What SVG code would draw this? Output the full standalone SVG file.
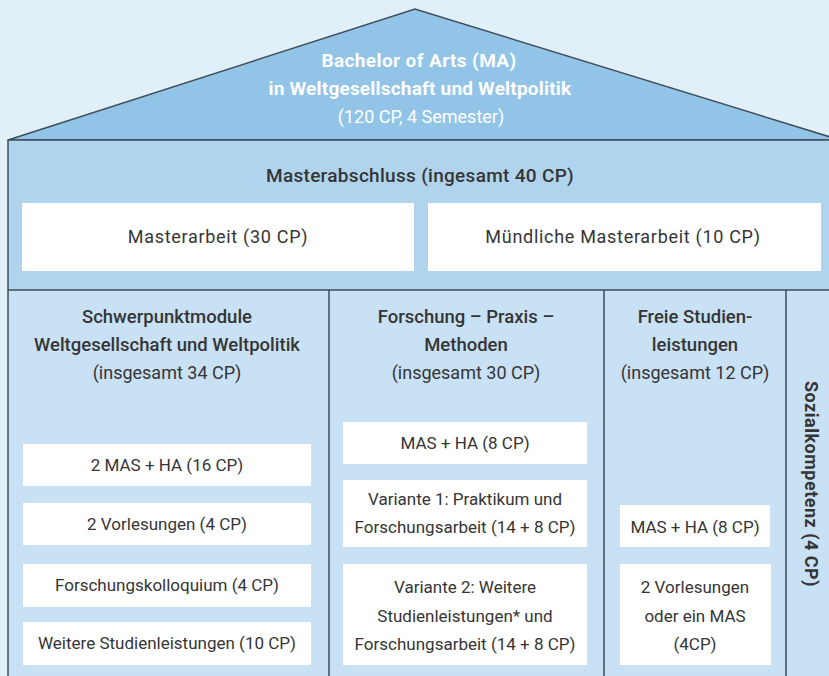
<svg xmlns="http://www.w3.org/2000/svg" width="829" height="676" viewBox="0 0 829 676">
<style>
text{font-family:Roboto,"Liberation Sans",sans-serif;fill:#353535;text-anchor:middle}
.t{fill:#ffffff;font-size:19px}
.b{font-weight:700}
.h{font-size:18.5px;font-weight:500}
.hs{font-size:18px}
.bx{font-size:17px}
.mb{font-size:18px;letter-spacing:0.7px}
.box{fill:#ffffff}
.ln{stroke:#3e4d59;stroke-width:1.5;fill:none}
</style>
<rect width="829" height="676" fill="#e1eff9"/>
<g id="roof">
<polygon points="8,140 415,9 840,140" style="fill:#92c4e8;stroke:#3e4d59;stroke-width:1.5"/>
<text class="t b" x="419" y="67" style="letter-spacing:0.4px">Bachelor of Arts (MA)</text>
<text class="t b" x="420" y="95" style="letter-spacing:0.2px">in Weltgesellschaft und Weltpolitik</text>
<text class="t" x="421" y="123" style="font-size:18px">(120 CP, 4 Semester)</text>
</g>
<g id="masterabschluss">
<rect x="8" y="140" width="832" height="150" fill="#b1d4ee"/>
<text class="h" x="420" y="182" style="font-size:19px;letter-spacing:0.3px">Masterabschluss (ingesamt 40 CP)</text>
</g>
<g id="masterarbeit">
<rect class="box" x="22" y="203" width="392" height="68"/>
<text class="mb" x="218" y="243">Masterarbeit (30 CP)</text>
</g>
<g id="muendliche">
<rect class="box" x="428" y="203" width="393" height="68"/>
<text class="mb" x="623" y="243">Mündliche Masterarbeit (10 CP)</text>
</g>
<rect x="8" y="290" width="832" height="386" fill="#c9e1f4"/>
<g id="col1-header">
<text class="h" x="167" y="323">Schwerpunktmodule</text>
<text class="h" x="167" y="351">Weltgesellschaft und Weltpolitik</text>
<text class="hs" x="167" y="379">(insgesamt 34 CP)</text>
</g>
<g id="col1-box1"><rect class="box" x="23" y="444" width="288" height="42"/><text class="bx" x="167" y="471">2 MAS + HA (16 CP)</text></g>
<g id="col1-box2"><rect class="box" x="23" y="503" width="288" height="42"/><text class="bx" x="167" y="530">2 Vorlesungen (4 CP)</text></g>
<g id="col1-box3"><rect class="box" x="23" y="564" width="288" height="43"/><text class="bx" x="167" y="591">Forschungskolloquium (4 CP)</text></g>
<g id="col1-box4"><rect class="box" x="23" y="622" width="288" height="43"/><text class="bx" x="167" y="649">Weitere Studienleistungen (10 CP)</text></g>
<g id="col2-header">
<text class="h" x="466" y="323">Forschung – Praxis –</text>
<text class="h" x="466" y="351">Methoden</text>
<text class="hs" x="466" y="379">(insgesamt 30 CP)</text>
</g>
<g id="col2-box1"><rect class="box" x="343" y="422" width="244" height="42"/><text class="bx" x="465" y="449">MAS + HA (8 CP)</text></g>
<g id="col2-box2"><rect class="box" x="343" y="480" width="244" height="67"/><text class="bx" x="465" y="505">Variante 1: Praktikum und</text><text class="bx" x="465" y="533">Forschungsarbeit (14 + 8 CP)</text></g>
<g id="col2-box3"><rect class="box" x="343" y="564" width="244" height="101"/><text class="bx" x="465" y="593">Variante 2: Weitere</text><text class="bx" x="465" y="622">Studienleistungen* und</text><text class="bx" x="465" y="650">Forschungsarbeit (14 + 8 CP)</text></g>
<g id="col3-header">
<text class="h" x="695" y="323">Freie Studien-</text>
<text class="h" x="695" y="351">leistungen</text>
<text class="hs" x="695" y="379">(insgesamt 12 CP)</text>
</g>
<g id="col3-box1"><rect class="box" x="620" y="505" width="150" height="42"/><text class="bx" x="695" y="533">MAS + HA (8 CP)</text></g>
<g id="col3-box2"><rect class="box" x="620" y="564" width="151" height="101"/><text class="bx" x="695" y="593">2 Vorlesungen</text><text class="bx" x="695" y="622">oder ein MAS</text><text class="bx" x="695" y="650">(4CP)</text></g>
<g id="col4">
<text class="b" transform="translate(811,484) rotate(90)" x="0" y="6" style="font-size:18px;letter-spacing:0.5px">Sozialkompetenz (4 CP)</text>
</g>
<g id="lines">
<polyline class="ln" points="8,676 8,140 840,140"/>
<line class="ln" x1="8" y1="290" x2="829" y2="290"/>
<line class="ln" x1="329" y1="290" x2="329" y2="676"/>
<line class="ln" x1="604" y1="290" x2="604" y2="676"/>
<line class="ln" x1="786" y1="290" x2="786" y2="676"/>
</g>
</svg>
